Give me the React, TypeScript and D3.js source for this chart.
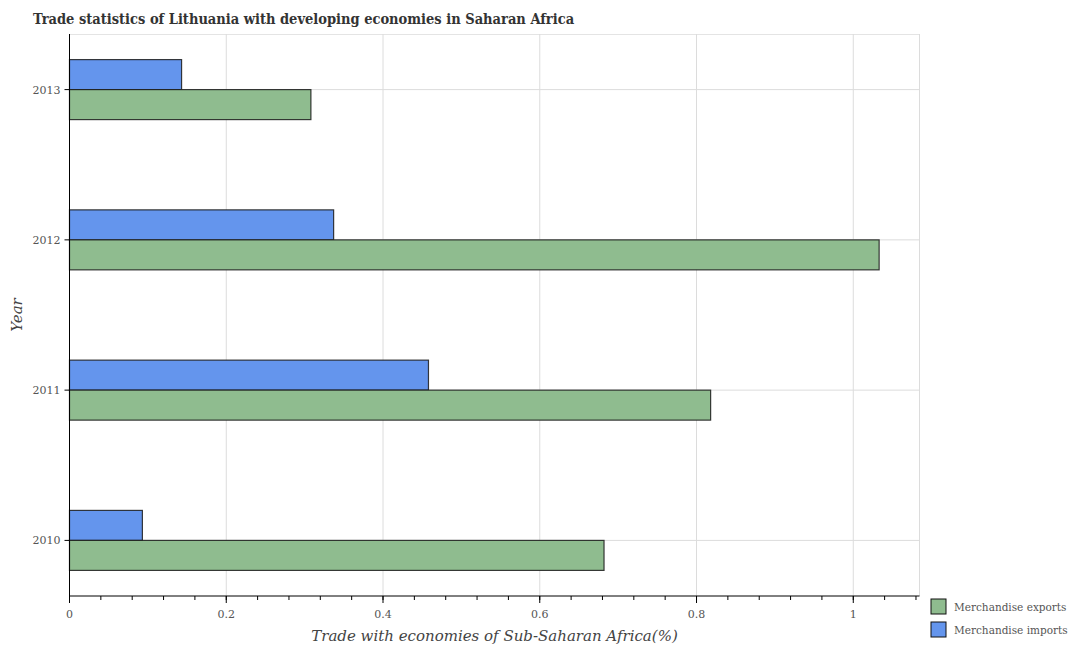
import * as d3 from 'd3'

const years = ['2010', '2011', '2012', '2013']
const exportsPct = [0.682, 0.818, 1.033, 0.308]
const importsPct = [0.093, 0.458, 0.337, 0.143]
const xTicks = [0, 0.2, 0.4, 0.6, 0.8, 1]
const seriesNames = ['Merchandise exports', 'Merchandise imports']
const seriesColors = ['#8fbc8f', '#6495ed']

const W = 1083
const H = 650
const left = 69.5
const right = 919.5
const top = 34
const bottom = 596
const barH = 30

export default function App() {
  const x = d3.scaleLinear().domain([0, 1.0845]).range([left, right])
  const y = d3.scalePoint<string>().domain([...years].reverse()).range([top, bottom]).padding(0.37)
  const minor = d3.range(0, 1.0845, 0.04)
  const serif = '"DejaVu Serif", serif'

  return (
    <svg width={W} height={H} style={{ position: 'absolute', left: 0, top: 0, background: '#fff' }}>
      <text x={33} y={24} fontFamily='"DejaVu Serif Condensed", "DejaVu Serif", serif' fontWeight="bold" fontSize={14.5} fill="#333">
        Trade statistics of Lithuania with developing economies in Saharan Africa
      </text>

      {/* grid */}
      <line x1={left} x2={right} y1={top + 0.5} y2={top + 0.5} stroke="#e4e4e4" />
      <line x1={right} x2={right} y1={top} y2={bottom} stroke="#dcdcdc" />
      {xTicks.slice(1).map((t) => (
        <line key={t} x1={x(t)} x2={x(t)} y1={top} y2={bottom} stroke="#dcdcdc" />
      ))}
      {years.map((yr) => (
        <line key={yr} x1={left} x2={right} y1={y(yr)} y2={y(yr)} stroke="#dcdcdc" />
      ))}

      {/* bars */}
      {years.map((yr, i) => (
        <g key={yr}>
          <rect x={x(0)} y={(y(yr) ?? 0) - barH} width={x(importsPct[i]) - x(0)} height={barH}
            fill={seriesColors[1]} stroke="#1a1a1a" strokeOpacity={0.85} strokeWidth={1.2} />
          <rect x={x(0)} y={y(yr)} width={x(exportsPct[i]) - x(0)} height={barH}
            fill={seriesColors[0]} stroke="#1a1a1a" strokeOpacity={0.85} strokeWidth={1.2} />
        </g>
      ))}

      {/* x axis */}
      <line x1={left} x2={right} y1={bottom} y2={bottom} stroke="#000" />
      {minor.map((t) => (
        <line key={'m' + t} x1={x(t)} x2={x(t)} y1={bottom} y2={bottom + 4} stroke="#000" />
      ))}
      {xTicks.map((t) => (
        <g key={t}>
          <line x1={x(t)} x2={x(t)} y1={bottom} y2={bottom + 7} stroke="#000" />
          <text x={x(t)} y={bottom + 22} textAnchor="middle" fontFamily={serif} fontSize={11} fill="#555">
            {d3.format('~g')(t)}
          </text>
        </g>
      ))}
      <text x={(left + right) / 2} y={641} textAnchor="middle" fontFamily={serif} fontStyle="italic" fontSize={15} fill="#444">
        Trade with economies of Sub-Saharan Africa(%)
      </text>

      {/* y axis */}
      <line x1={left} x2={left} y1={top} y2={bottom} stroke="#000" />
      {years.map((yr) => (
        <g key={yr}>
          <line x1={left - 5} x2={left} y1={y(yr)} y2={y(yr)} stroke="#000" />
          <text x={left - 9} y={(y(yr) ?? 0) + 4} textAnchor="end" fontFamily={serif} fontSize={11} fill="#555">
            {yr}
          </text>
        </g>
      ))}
      <text transform={`translate(22,${(top + bottom) / 2}) rotate(-90)`} textAnchor="middle" fontFamily={serif} fontStyle="italic" fontSize={15} fill="#444">
        Year
      </text>

      {/* legend */}
      {seriesNames.map((name, i) => (
        <g key={name} transform={`translate(931,${599 + i * 23})`}>
          <rect width={15} height={15} fill={seriesColors[i]} stroke="#111" strokeWidth={1} />
          <text x={23} y={12} fontFamily={serif} fontSize={10.5} fill="#555">{name}</text>
        </g>
      ))}
    </svg>
  )
}
